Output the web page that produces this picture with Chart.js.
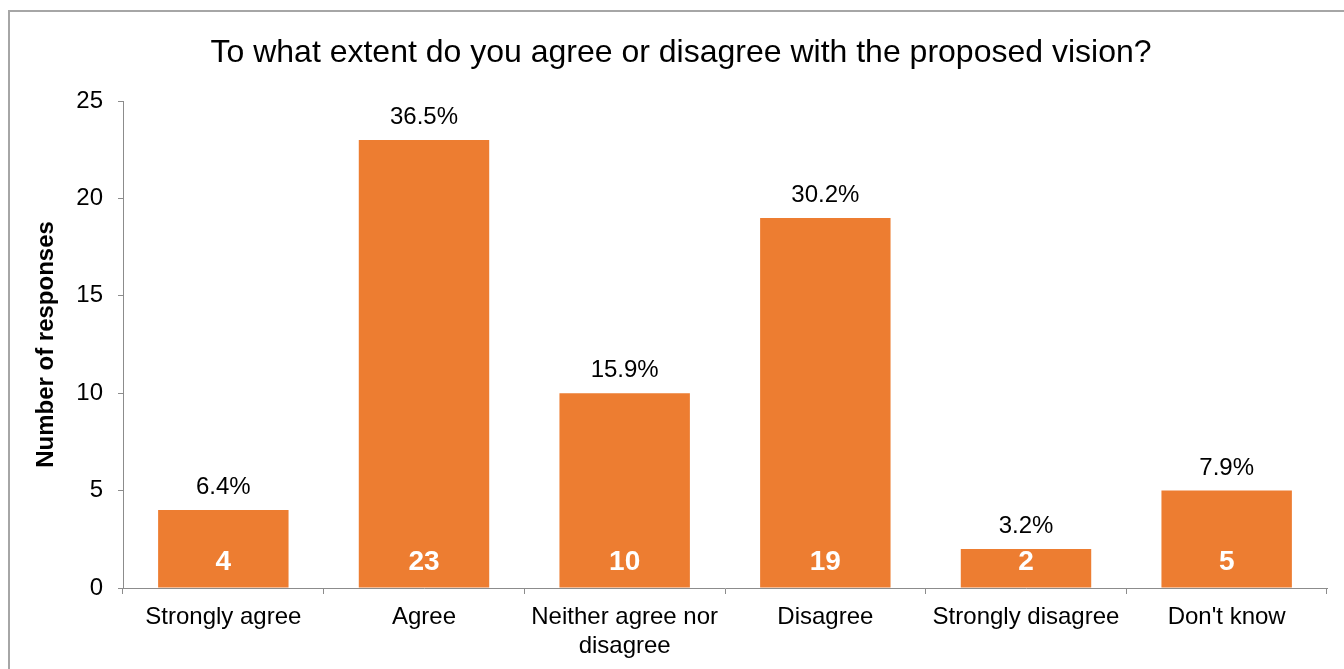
<!DOCTYPE html>
<html>
<head>
<meta charset="utf-8">
<script src="https://cdn.jsdelivr.net/npm/chart.js@4"></script>
<style>
  body { margin: 0; background: #fff; }
  #wrap { position: relative; width: 1344px; height: 669px; overflow: hidden; }
  #frame { position: absolute; left: 8px; top: 10px; width: 1400px; height: 700px;
           border-left: 2px solid #a6a6a6; border-top: 2px solid #a6a6a6; }
  #chart { position: absolute; left: 0; top: 0; }
</style>
</head>
<body>
<div id="wrap">
  <div id="frame"></div>
  <canvas id="chart" width="1344" height="669"></canvas>
</div>
<script>
// chart data
const categories = ["Strongly agree", "Agree", ["Neither agree nor", "disagree"], "Disagree", "Strongly disagree", "Don't know"];
const responses = [4, 23, 10, 19, 2, 5];
const percentLabels = ["6.4%", "36.5%", "15.9%", "30.2%", "3.2%", "7.9%"];
const yTicks = [0, 5, 10, 15, 20, 25];

const titleText = "To what extent do you agree or disagree with the proposed vision?";
const yTitle = "Number of responses";
const font = "'Liberation Sans', Arial, sans-serif";
const barColor = "#ED7D31";
const axisColor = "#8c8c8c";

// draws the title, y title and the labels on/above the bars
const labelsPlugin = {
  id: "labels",
  afterDraw(chart) {
    const c = chart.ctx;
    const area = chart.chartArea;
    c.save();
    c.fillStyle = "#000";
    c.textAlign = "center";
    c.textBaseline = "alphabetic";
    c.font = "32px " + font;
    c.fillText(titleText, 681, 62);

    c.save();
    c.translate(46, (area.top + area.bottom) / 2);
    c.rotate(-Math.PI / 2);
    c.font = "bold 24px " + font;
    c.textBaseline = "middle";
    c.fillText(yTitle, 0, 0);
    c.restore();

    const meta = chart.getDatasetMeta(0);
    meta.data.forEach((bar, i) => {
      c.fillStyle = "#000";
      c.font = "24px " + font;
      c.fillText(percentLabels[i], bar.x, bar.y - 16);
      c.fillStyle = "#fff";
      c.font = "bold 28px " + font;
      c.fillText(String(responses[i]), bar.x, bar.base - 18);
    });
    c.restore();
  }
};

new Chart(document.getElementById("chart"), {
  type: "bar",
  data: {
    labels: categories,
    datasets: [{
      data: responses,
      backgroundColor: barColor,
      borderWidth: 0,
      barPercentage: 0.65,
      categoryPercentage: 1
    }]
  },
  options: {
    responsive: false,
    animation: false,
    layout: { padding: { top: 101, right: 17, left: 0, bottom: 0 } },
    plugins: {
      legend: { display: false },
      tooltip: { enabled: false },
      title: { display: false }
    },
    scales: {
      x: {
        afterFit: s => { s.height = 81; },
        grid: { drawOnChartArea: false, drawTicks: true, tickLength: 6, color: axisColor, offset: true },
        border: { color: axisColor, width: 1 },
        ticks: { color: "#000", font: { family: font, size: 24 }, padding: 9, maxRotation: 0, autoSkip: false }
      },
      y: {
        min: 0,
        max: 25,
        afterFit: s => { s.width = 123; },
        afterBuildTicks: s => { s.ticks = yTicks.map(v => ({ value: v })); },
        grid: { drawOnChartArea: false, drawTicks: true, tickLength: 5, color: axisColor },
        border: { color: axisColor, width: 1 },
        ticks: { color: "#000", font: { family: font, size: 24 }, padding: 15 }
      }
    }
  },
  plugins: [labelsPlugin]
});
</script>
</body>
</html>
